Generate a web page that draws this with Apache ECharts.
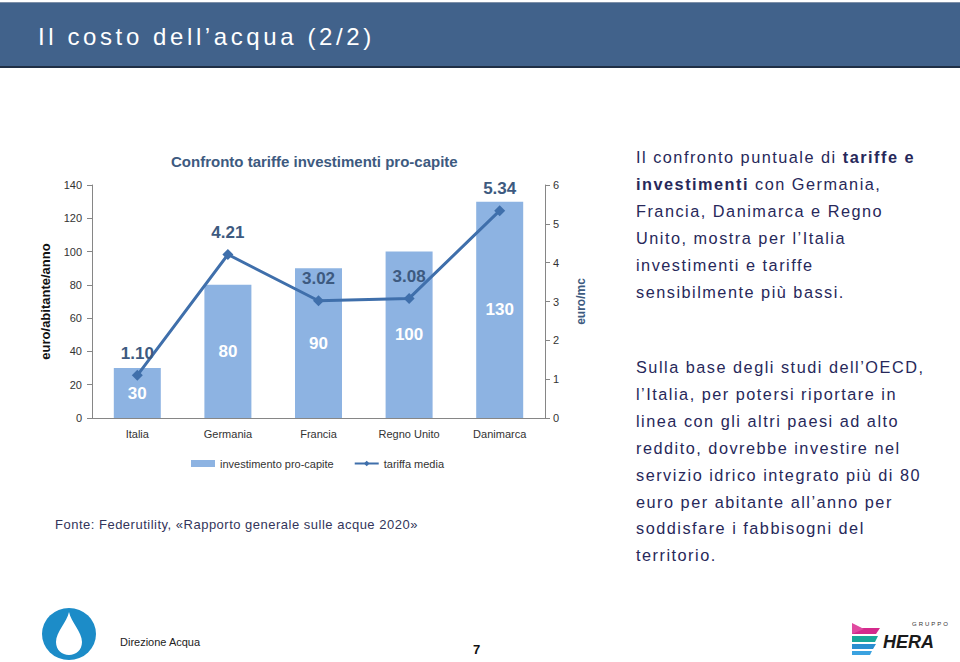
<!DOCTYPE html>
<html>
<head>
<meta charset="utf-8">
<script src="https://cdn.jsdelivr.net/npm/echarts@6/dist/echarts.min.js"></script>
<style>
  html, body { margin: 0; padding: 0; background: #fff; }
  body { width: 960px; height: 662px; position: relative; overflow: hidden; font-family: "Liberation Sans", Arial, sans-serif; }
  #header { position: absolute; left: 0; top: 2px; width: 960px; height: 66px; background: #41628b; border-top: 1px solid #7d8fa8; border-bottom: 2px solid #1f2f45; box-sizing: border-box; }
  #title { position: absolute; left: 38px; top: 19px; color: #fff; font-size: 24px; letter-spacing: 3.6px; white-space: nowrap; line-height: 30px; }
  #chart { position: absolute; left: 0; top: 0; width: 960px; height: 662px; }
  .txt { position: absolute; left: 636px; color: #27285a; font-size: 16.3px; letter-spacing: 1.5px; line-height: 26.9px; white-space: nowrap; }
  #p1 { top: 144px; }
  #p2 { top: 354px; }
  #src { position: absolute; left: 55px; top: 517px; font-size: 13px; line-height: 16px; color: #33355a; letter-spacing: 0.5px; white-space: nowrap; }
  #dir { position: absolute; left: 120px; top: 636px; font-size: 11px; color: #222; font-family: "Liberation Sans Narrow", "Liberation Sans", sans-serif; white-space: nowrap; }
  #page { position: absolute; left: 473px; top: 642px; font-size: 13px; font-weight: bold; color: #111; }
  svg.logo { position: absolute; }
</style>
</head>
<body>
<div id="header"><div id="title">Il costo dell’acqua (2/2)</div></div>
<div id="chart"></div>
<div class="txt" id="p1">Il confronto puntuale di <b>tariffe e</b><br><b>investimenti</b> con Germania,<br>Francia, Danimarca e Regno<br>Unito, mostra per l’Italia<br>investimenti e tariffe<br>sensibilmente più bassi.</div>
<div class="txt" id="p2">Sulla base degli studi dell’OECD,<br>l’Italia, per potersi riportare in<br>linea con gli altri paesi ad alto<br>reddito, dovrebbe investire nel<br>servizio idrico integrato più di 80<br>euro per abitante all’anno per<br>soddisfare i fabbisogni del<br>territorio.</div>
<div id="src">Fonte: Federutility, «Rapporto generale sulle acque 2020»</div>
<div id="dir">Direzione Acqua</div>
<div id="page">7</div>
<svg class="logo" style="left:40px;top:606px" width="60" height="56" viewBox="0 0 60 56">
  <ellipse cx="29" cy="28" rx="27" ry="26" fill="#1c8cc8"/>
  <path d="M29 6 C31 16 42 26 42 36 C42 44 36 49 29 49 C22 49 16 44 16 36 C16 26 27 16 29 6 Z" fill="#fff"/>
</svg>
<svg class="logo" style="left:850px;top:614px" width="100" height="46" viewBox="0 0 100 46">
  <path d="M2 14 L30 14 L26 20 L2 20 Z" fill="#d42a8c"/>
  <path d="M2 9 L14 15 L2 20 Z" fill="#e04aa0"/>
  <path d="M2 22 L28 22 L25 28 L2 28 Z" fill="#1aa79a"/>
  <path d="M2 30 L26 30 L23 35 L2 35 Z" fill="#2a8fd0"/>
  <path d="M2 37 L22 37 L20 41 L2 41 Z" fill="#3aa2e0"/>
  <text x="62" y="12" font-size="6" letter-spacing="2" fill="#333" font-family="Liberation Sans">GRUPPO</text>
  <text x="33" y="34" font-size="18" font-weight="bold" font-style="italic" fill="#1a1a1a" font-family="Liberation Sans Narrow, Liberation Sans">HERA</text>
</svg>
<script>
const categories = ['Italia', 'Germania', 'Francia', 'Regno Unito', 'Danimarca'];
const investimento = [30, 80, 90, 100, 130];
const tariffa = [1.10, 4.21, 3.02, 3.08, 5.34];
const seriesNames = ['investimento pro-capite', 'tariffa media'];
const chartTitle = 'Confronto tariffe investimenti pro-capite';
const leftAxisName = 'euro/abitante/anno';
const rightAxisName = 'euro/mc';

const chart = echarts.init(document.getElementById('chart'), null, { renderer: 'svg' });
const font = 'Liberation Sans';
chart.setOption({
  animation: false,
  textStyle: { fontFamily: font },
  title: {
    text: chartTitle, left: 166, top: 149,
    textStyle: { fontFamily: font, fontSize: 15, fontWeight: 'bold', color: '#3d5a80' }
  },
  legend: {
    left: 186, top: 453, itemGap: 20,
    textStyle: { fontFamily: font, fontSize: 11, color: '#333' },
    data: [
      { name: seriesNames[0], icon: 'rect' },
      { name: seriesNames[1] }
    ],
    itemWidth: 24, itemHeight: 7
  },
  grid: { left: 92, right: 415, top: 185, bottom: 244 },
  xAxis: {
    type: 'category', data: categories,
    axisLine: { lineStyle: { color: '#868686' } },
    axisTick: { length: 5, lineStyle: { color: '#868686' } },
    axisLabel: { fontFamily: font, fontSize: 11, color: '#333', margin: 10 }
  },
  yAxis: [
    {
      type: 'value', min: 0, max: 140, interval: 20, position: 'left',
      name: leftAxisName, nameLocation: 'middle', nameGap: 40, nameRotate: 90,
      nameTextStyle: { fontFamily: font, fontSize: 13, fontWeight: 'bold', color: '#111' },
      axisLine: { show: true, lineStyle: { color: '#868686' } },
      axisTick: { show: true, length: 5, lineStyle: { color: '#868686' } },
      axisLabel: { fontFamily: font, fontSize: 11, color: '#333', margin: 10 },
      splitLine: { show: false }
    },
    {
      type: 'value', min: 0, max: 6, interval: 1, position: 'right',
      name: rightAxisName, nameLocation: 'middle', nameGap: 30, nameRotate: 90,
      nameTextStyle: { fontFamily: font, fontSize: 12, fontWeight: 'bold', color: '#3d5a80' },
      axisLine: { show: true, lineStyle: { color: '#868686' } },
      axisTick: { show: true, length: 5, lineStyle: { color: '#868686' } },
      axisLabel: { fontFamily: font, fontSize: 11, color: '#333', margin: 8 },
      splitLine: { show: false }
    }
  ],
  series: [
    {
      name: seriesNames[0], type: 'bar', data: investimento, barWidth: 47,
      itemStyle: { color: '#8db3e2' },
      label: { show: true, position: 'inside', color: '#fff', fontFamily: font, fontSize: 17, fontWeight: 'bold' }
    },
    {
      name: seriesNames[1], type: 'line', yAxisIndex: 1, data: tariffa,
      symbol: 'diamond', symbolSize: 11,
      lineStyle: { color: '#3f6fab', width: 3 },
      itemStyle: { color: '#3f6fab' },
      label: {
        show: true, position: 'top', distance: 8,
        formatter: p => p.value.toFixed(2),
        color: '#3d5a80', fontFamily: font, fontSize: 17, fontWeight: 'bold'
      }
    }
  ]
});
</script>
</body>
</html>
